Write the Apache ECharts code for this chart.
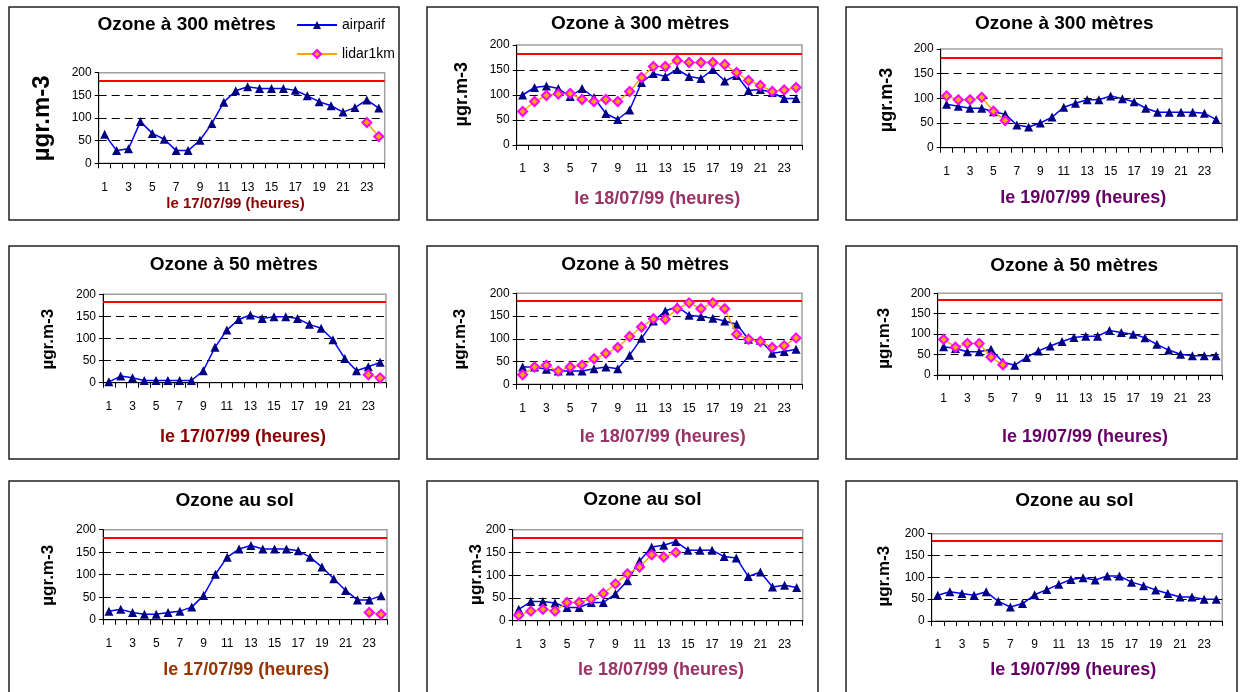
<!DOCTYPE html>
<html>
<head>
<meta charset="utf-8">
<script src="https://cdn.jsdelivr.net/npm/echarts@6/dist/echarts.min.js"></script>
<style>
  html, body { margin: 0; padding: 0; background: #fff; }
  #chart { width: 1241px; height: 692px; }
</style>
</head>
<body>
<div id="chart"></div>
<script>
// Hours of the day (category axis)
const hours = ['1','2','3','4','5','6','7','8','9','10','11','12','13','14','15','16','17','18','19','20','21','22','23','24'];

// Information threshold (µg/m³)
const threshold = 183;

// Series names
const seriesNames = ['airparif', 'lidar1km'];

// Panel titles and axis names
const titles = ['Ozone à 300 mètres', 'Ozone à 300 mètres', 'Ozone à 300 mètres',
                'Ozone à 50 mètres', 'Ozone à 50 mètres', 'Ozone à 50 mètres',
                'Ozone au sol', 'Ozone au sol', 'Ozone au sol'];
const dayLabels = ['le 17/07/99 (heures)', 'le 18/07/99 (heures)', 'le 19/07/99 (heures)',
                   'le 17/07/99 (heures)', 'le 18/07/99 (heures)', 'le 19/07/99 (heures)',
                   'le 17/07/99 (heures)', 'le 18/07/99 (heures)', 'le 19/07/99 (heures)'];
const unitLabel = 'µgr.m-3';

// Ozone at 300 m
const airparif_17_300 = [64,28,32,92,66,53,28,28,51,88,135,160,169,165,165,165,161,149,136,127,113,123,140,122];
const lidar_17_300    = [null,null,null,null,null,null,null,null,null,null,null,null,null,null,null,null,null,null,null,null,null,null,90,59];
const airparif_18_300 = [100,115,118,113,97,113,95,63,51,70,125,143,137,151,137,133,151,128,139,109,111,105,93,93];
const lidar_18_300    = [67,87,99,102,103,91,87,91,87,107,135,157,157,169,165,165,165,161,145,129,119,107,110,115];
const airparif_19_300 = [88,84,80,80,73,68,46,42,50,62,82,90,97,97,105,99,93,80,72,72,72,72,70,57];
const lidar_19_300    = [105,97,97,102,74,55,null,null,null,null,null,null,null,null,null,null,null,null,null,null,null,null,null,null];

// Ozone at 50 m
const airparif_17_50 = [2,15,11,5,5,5,5,5,27,80,119,143,153,145,149,149,145,132,123,97,55,27,36,46];
const lidar_17_50    = [null,null,null,null,null,null,null,null,null,null,null,null,null,null,null,null,null,null,null,null,null,null,18,11];
const airparif_18_50 = [38,38,33,29,29,29,34,38,34,64,101,139,161,171,152,149,145,139,132,99,97,68,72,77];
const lidar_18_50    = [21,38,42,29,38,42,56,68,81,105,126,144,143,166,179,166,179,166,110,99,94,81,85,102];
const airparif_19_50 = [69,65,57,57,63,32,24,43,59,71,82,92,95,95,109,104,100,91,75,61,51,47,47,47];
const lidar_19_50    = [87,68,77,77,44,25,null,null,null,null,null,null,null,null,null,null,null,null,null,null,null,null,null,null];

// Ozone at ground level
const airparif_17_sol = [19,23,16,12,12,16,19,28,54,101,139,157,165,157,157,157,153,139,117,91,65,44,44,53];
const lidar_17_sol    = [null,null,null,null,null,null,null,null,null,null,null,null,null,null,null,null,null,null,null,null,null,null,16,12];
const airparif_18_sol = [25,42,42,39,29,29,40,40,59,88,131,162,166,174,155,155,155,141,138,97,107,74,78,73];
const lidar_18_sol    = [12,21,25,21,40,40,48,60,81,103,118,145,140,150,null,null,null,null,null,null,null,null,null,null];
const airparif_19_sol = [59,67,63,59,67,45,32,40,60,72,84,95,99,94,103,103,89,81,71,63,55,55,50,50];
const lidar_19_sol    = [null,null,null,null,null,null,null,null,null,null,null,null,null,null,null,null,null,null,null,null,null,null,null,null];

const airparifData = [airparif_17_300, airparif_18_300, airparif_19_300,
                      airparif_17_50, airparif_18_50, airparif_19_50,
                      airparif_17_sol, airparif_18_sol, airparif_19_sol];
const lidarData = [lidar_17_300, lidar_18_300, lidar_19_300,
                   lidar_17_50, lidar_18_50, lidar_19_50,
                   lidar_17_sol, lidar_18_sol, lidar_19_sol];

// ---- layout (pixels) ----
const FONT = '"Liberation Sans", Arial, Helvetica, sans-serif';
const dayColors = ['#880000', '#993366', '#660066',
                   '#880000', '#993366', '#660066',
                   '#993300', '#993366', '#660066'];
const boxes = [
  [9, 7, 390, 213], [427, 7, 391, 213], [846, 7, 391, 213],
  [9, 246, 390, 213], [427, 246, 391, 213], [846, 246, 391, 213],
  [9, 481, 390, 240], [427, 481, 391, 240], [846, 481, 391, 240]
];
const grids = [
  [98.7, 72.7, 286, 90.6], [516.7, 45, 285.3, 100], [940.7, 49, 281.3, 98.7],
  [103, 294.3, 283, 88.4], [516.7, 293.3, 285.3, 91], [937.7, 293.3, 284.3, 81.7],
  [103, 529.7, 284, 90], [512.7, 529.7, 290, 91], [931.7, 533.7, 290.6, 87.3]
];
const titlePos = [
  [186.7, 24.7], [640.2, 23.8], [1064.3, 24],
  [233.8, 265], [645.2, 265], [1074.2, 265.3],
  [234.7, 500.3], [642.3, 500], [1074.3, 501]
];
const dayPos = [
  [235.5, 203.7, 15], [657.3, 199, 18], [1083.3, 198, 18],
  [243, 436.7, 18], [662.7, 436.7, 18], [1085, 436.7, 18],
  [246.3, 670.3, 18], [661, 670.3, 18], [1073.3, 670.3, 18]
];
const unitPos = [
  [42.2, 118.3, 24], [461.8, 94.2, 18], [887.5, 100, 18],
  [48.8, 339.2, 17], [460.2, 339.2, 17], [884.2, 338.3, 17],
  [48.8, 575.3, 17], [476.8, 574.5, 17], [884.2, 576.2, 17]
];

const option = {
  animation: false,
  backgroundColor: '#ffffff',
  textStyle: { fontFamily: FONT },
  legend: {
    data: seriesNames,
    orient: 'vertical',
    left: 291,
    top: 13,
    itemWidth: 40,
    itemHeight: 10,
    itemGap: 15,
    textStyle: { fontSize: 14, color: '#000', fontFamily: FONT }
  },
  grid: [],
  xAxis: [],
  yAxis: [],
  series: [],
  graphic: []
};

for (let i = 0; i < 9; i++) {
  const g = grids[i];
  option.grid.push({
    left: g[0], top: g[1], width: g[2], height: g[3],
    show: true, borderColor: '#a0a0a0', borderWidth: 1.5, backgroundColor: 'transparent'
  });
  option.xAxis.push({
    type: 'category', gridIndex: i, data: hours, boundaryGap: true,
    axisLine: { lineStyle: { color: '#000', width: 1 } },
    axisTick: { show: true, interval: 0, length: 5, lineStyle: { color: '#000' } },
    axisLabel: { interval: 1, fontSize: 12, color: '#000', margin: 18, fontFamily: FONT },
    splitLine: { show: false }
  });
  option.yAxis.push({
    type: 'value', gridIndex: i, min: 0, max: 200, interval: 50,
    axisLine: { show: true, lineStyle: { color: '#000', width: 1 } },
    axisTick: { show: true, length: 4, lineStyle: { color: '#000' } },
    axisLabel: { fontSize: 12, color: '#000', margin: 7, fontFamily: FONT },
    splitLine: { show: true, showMinLine: false, showMaxLine: false,
                 lineStyle: { color: '#000', type: [8, 5], width: 1 } }
  });
  option.series.push({
    name: seriesNames[0], type: 'line', xAxisIndex: i, yAxisIndex: i,
    data: airparifData[i], symbol: 'triangle', symbolSize: 9, showAllSymbol: true,
    itemStyle: { color: '#000080' },
    lineStyle: { color: '#0000ff', width: 1.5 },
    z: 4,
    markLine: {
      silent: true, symbol: 'none', animation: false,
      label: { show: false },
      lineStyle: { color: '#ff0000', type: 'solid', width: 2 },
      data: [{ yAxis: threshold }]
    }
  });
  if (lidarData[i].some(v => v !== null)) {
    option.series.push({
      name: seriesNames[1], type: 'line', xAxisIndex: i, yAxisIndex: i,
      data: lidarData[i], symbol: 'diamond', symbolSize: 9, showAllSymbol: true,
      itemStyle: { color: '#ffa500', borderColor: '#ff00ff', borderWidth: 2 },
      lineStyle: { color: '#ffa500', width: 1.5 },
      z: 5
    });
  }

  const b = boxes[i];
  option.graphic.push({
    type: 'rect', z: 0, silent: true,
    shape: { x: b[0], y: b[1], width: b[2], height: b[3] },
    style: { fill: 'none', stroke: '#222', lineWidth: 1.5 }
  });
  option.graphic.push({
    type: 'text', x: titlePos[i][0], y: titlePos[i][1], silent: true,
    style: { text: titles[i], fontSize: 19, fontWeight: 'bold', fontFamily: FONT,
             fill: '#000', textAlign: 'center', textVerticalAlign: 'middle' }
  });
  option.graphic.push({
    type: 'text', x: dayPos[i][0], y: dayPos[i][1], silent: true,
    style: { text: dayLabels[i], fontSize: dayPos[i][2], fontWeight: 'bold', fontFamily: FONT,
             fill: dayColors[i], textAlign: 'center', textVerticalAlign: 'middle' }
  });
  option.graphic.push({
    type: 'text', x: unitPos[i][0], y: unitPos[i][1], rotation: Math.PI / 2, silent: true,
    style: { text: unitLabel, fontSize: unitPos[i][2], fontWeight: 'bold', fontFamily: FONT,
             fill: '#000', textAlign: 'center', textVerticalAlign: 'middle' }
  });
}

const chart = echarts.init(document.getElementById('chart'), null, { renderer: 'canvas' });
chart.setOption(option);
</script>
</body>
</html>
